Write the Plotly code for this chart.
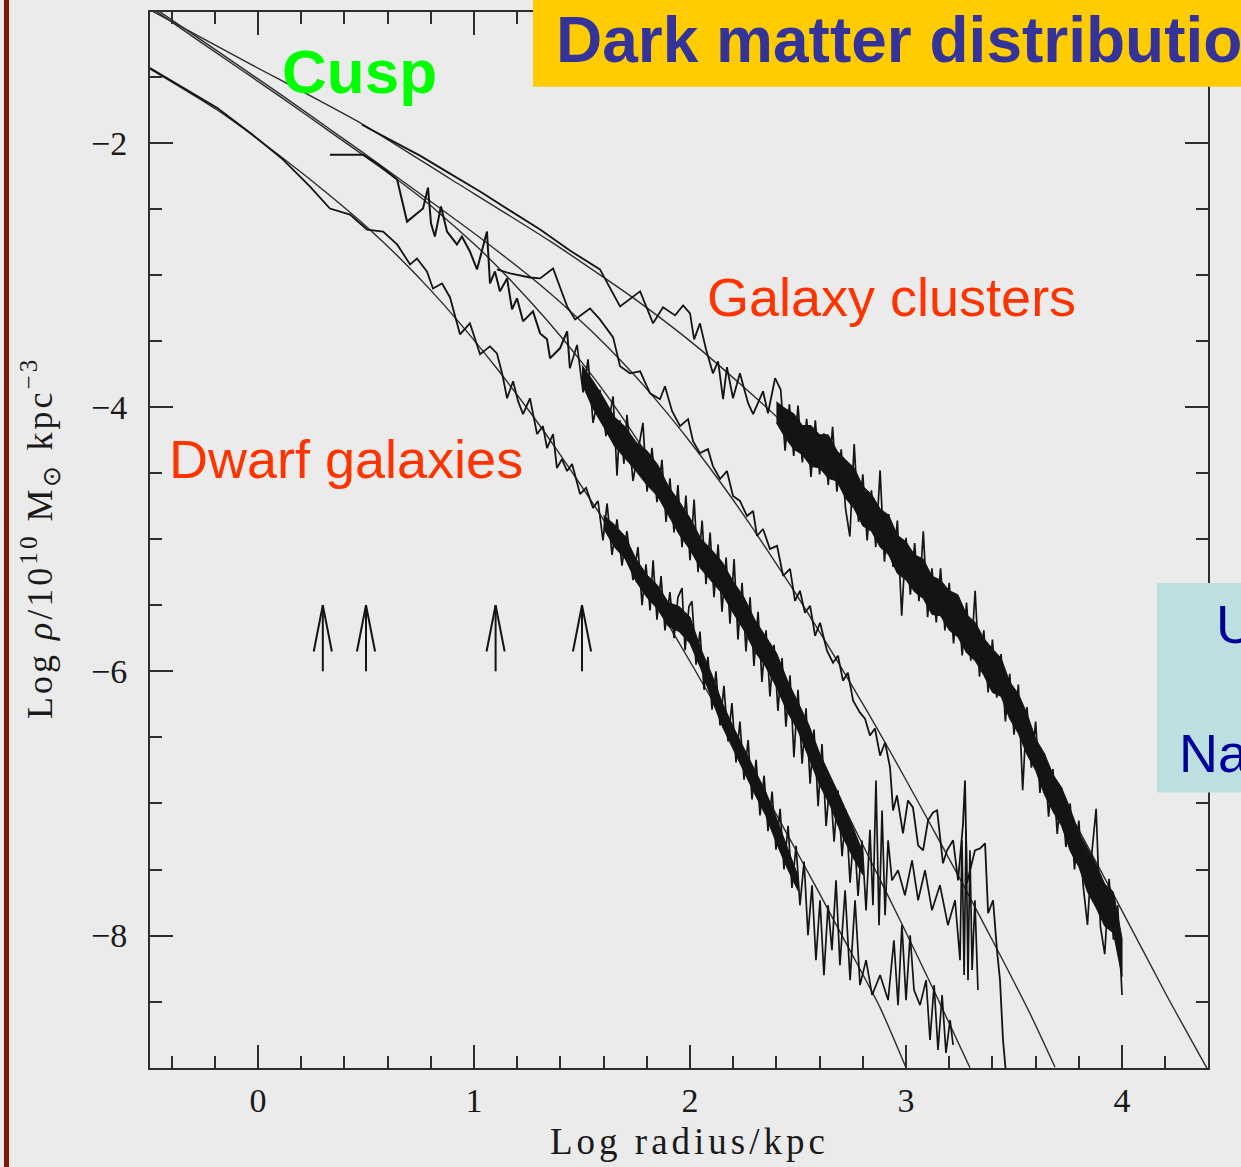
import plotly.graph_objects as go

# ---------------- axis frame (data units) ----------------
X_RANGE = [-0.5, 4.398]
Y_RANGE = [-9.002, -1.011]

# ---------------- fitted profiles ----------------
fit_cluster_x = [-0.500, -0.037, 0.481, 0.889, 1.352, 1.769, 2.046, 2.417, 2.741, 2.972,
                 3.204, 3.435, 3.667, 3.819, 3.977, 4.208, 4.398]
fit_cluster_y = [-0.995, -1.403, -1.857, -2.273, -2.745, -3.212, -3.562, -4.098, -4.642, -5.091,
                 -5.597, -6.173, -6.811, -7.259, -7.741, -8.457, -9.018]

fit_group_x = [-0.500, -0.255, 0.116, 0.333, 0.486, 0.782, 1.042, 1.352, 1.551, 1.676, 1.815, 2.000,
               2.185, 2.278, 2.431, 2.509, 2.662, 2.819, 2.926, 3.051, 3.250, 3.435, 3.574, 3.690]
fit_group_y = [-0.958, -1.232, -1.648, -1.898, -2.075, -2.424, -2.736, -3.139, -3.437, -3.643, -3.893,
               -4.263, -4.670, -4.889, -5.264, -5.463, -5.868, -6.300, -6.605, -6.974, -7.571, -8.145,
               -8.590, -8.996]

fit_galaxy_x = [-0.500, -0.255, 0.116, 0.333, 0.486, 0.644, 0.782, 1.028, 1.181, 1.338, 1.491, 1.616,
                1.769, 1.907, 2.079, 2.231, 2.356, 2.509, 2.662, 2.819, 2.972, 3.134, 3.296]
fit_galaxy_y = [-0.973, -1.250, -1.666, -1.916, -2.093, -2.279, -2.452, -2.809, -3.061, -3.344, -3.645,
                -3.914, -4.281, -4.640, -5.108, -5.537, -5.902, -6.369, -6.859, -7.377, -7.882, -8.433,
                -9.000]

fit_dwarf_x = [-0.500, -0.190, 0.116, 0.333, 0.519, 0.657, 0.796, 0.935, 1.106, 1.259, 1.398, 1.583,
               1.782, 1.940, 2.093, 2.278, 2.449, 2.588, 2.741, 2.880, 3.000]
fit_dwarf_y = [-1.441, -1.751, -2.118, -2.400, -2.660, -2.874, -3.110, -3.367, -3.709, -4.038, -4.358,
               -4.811, -5.328, -5.758, -6.189, -6.726, -7.230, -7.647, -8.114, -8.545, -9.000]

# ---------------- simulated (binned) profiles ----------------
# well-resolved inner parts
sim_cluster_in_x = [0.481, 0.611, 0.750, 0.889, 1.028, 1.167, 1.306, 1.444, 1.537, 1.583,
                    1.676, 1.769, 1.829, 1.875, 1.931, 1.968, 2.000, 2.019, 2.046, 2.074,
                    2.106, 2.130, 2.153, 2.171, 2.199, 2.231, 2.269, 2.292, 2.338, 2.361, 2.394]
sim_cluster_in_y = [-1.864, -1.977, -2.098, -2.234, -2.370, -2.514, -2.657, -2.816, -2.914, -2.959,
                    -3.239, -3.125, -3.367, -3.246, -3.307, -3.231, -3.292, -3.488, -3.367, -3.563,
                    -3.745, -3.654, -3.941, -3.699, -3.934, -3.745, -3.971, -4.054, -3.881, -4.047, -3.782]
# noisy outer parts
sim_cluster_out_x = [2.394, 2.42, 2.44, 2.46, 2.48, 2.50, 2.52, 2.54, 2.56, 2.58, 2.60,
                     2.62, 2.64, 2.66, 2.68, 2.70, 2.72, 2.74, 2.76, 2.78, 2.80,
                     2.82, 2.84, 2.86, 2.88, 2.90, 2.92, 2.94, 2.96, 2.98, 3.00,
                     3.02, 3.04, 3.06, 3.08, 3.10, 3.12, 3.14, 3.16, 3.18, 3.20,
                     3.22, 3.24, 3.26, 3.28, 3.30, 3.32, 3.34, 3.36, 3.38, 3.40,
                     3.42, 3.44, 3.46, 3.48, 3.50, 3.52, 3.54, 3.56, 3.58, 3.60,
                     3.62, 3.64, 3.66, 3.68, 3.70, 3.72, 3.74, 3.76, 3.78, 3.80,
                     3.82, 3.84, 3.86, 3.88, 3.90, 3.92, 3.94, 3.96, 3.98, 4.00]
sim_cluster_out_y = [-3.782, -3.87, -4.33, -3.98, -4.37, -3.99, -4.42, -4.09, -4.53, -4.10, -4.51,
                     -4.20, -4.59, -4.15, -4.64, -4.32, -4.77, -4.98, -4.28, -4.87, -4.51,
                     -5.01, -4.63, -5.06, -4.48, -5.17, -4.81, -5.21, -4.86, -5.58, -4.99,
                     -5.42, -5.03, -5.47, -4.94, -5.59, -5.22, -5.63, -5.22, -5.69, -5.33,
                     -5.79, -5.44, -5.88, -5.48, -5.92, -5.39, -6.04, -5.69, -6.16, -5.76,
                     -6.20, -5.87, -6.38, -6.02, -6.48, -6.10, -6.90, -6.27, -6.73, -6.38,
                     -6.92, -6.62, -7.10, -6.74, -7.23, -6.88, -7.33, -7.00, -7.50, -7.13,
                     -7.62, -7.92, -7.38, -7.04, -7.93, -8.14, -7.57, -8.03, -7.77, -8.45]

sim_group_x = [1.106, 1.167, 1.259, 1.306, 1.366, 1.398, 1.431, 1.468, 1.537, 1.583,
               1.644, 1.676, 1.722, 1.769, 1.815, 1.861, 1.884, 1.917, 1.954, 1.991,
               2.014, 2.046, 2.083, 2.106, 2.139, 2.171, 2.199, 2.231, 2.264, 2.292,
               2.310, 2.338, 2.370, 2.403, 2.431, 2.463, 2.486, 2.509, 2.532, 2.556,
               2.579, 2.602, 2.634, 2.662, 2.685, 2.708, 2.731, 2.755, 2.787, 2.810,
               2.833, 2.856, 2.880, 2.903, 2.926, 2.940, 2.958, 2.986, 3.009, 3.032,
               3.056, 3.079, 3.102, 3.125, 3.144, 3.171, 3.190, 3.218, 3.241, 3.264,
               3.273, 3.282, 3.296, 3.319, 3.343, 3.366, 3.380, 3.403, 3.421, 3.435,
               3.449, 3.463]
sim_group_y = [-2.959, -2.989, -3.020, -3.027, -2.952, -3.088, -3.239, -3.337, -3.254, -3.337,
               -3.473, -3.692, -3.745, -3.730, -3.896, -3.941, -3.843, -4.032, -4.145, -4.092,
               -4.258, -4.349, -4.319, -4.447, -4.545, -4.485, -4.674, -4.711, -4.825, -4.787,
               -4.976, -4.923, -5.074, -5.051, -5.278, -5.225, -5.467, -5.391, -5.557, -5.505,
               -5.731, -5.633, -5.844, -5.935, -5.882, -6.071, -6.011, -6.222, -6.313, -6.358,
               -6.486, -6.433, -6.638, -6.539, -6.728, -7.053, -6.940, -7.227, -6.977, -7.030,
               -7.317, -7.355, -7.128, -7.068, -7.053, -7.453, -7.355, -7.279, -7.582, -7.151,
               -6.826, -7.604, -7.506, -7.355, -7.340, -7.302, -7.831, -7.733, -8.110, -8.337,
               -8.790, -9.050]

sim_galaxy_in_x = [0.333, 0.486, 0.565, 0.644, 0.690, 0.764, 0.787, 0.801, 0.819, 0.847,
                   0.875, 0.921, 0.944, 0.981, 1.014, 1.060, 1.074, 1.097, 1.120, 1.153,
                   1.176, 1.199, 1.227, 1.273, 1.306, 1.338, 1.352, 1.398, 1.431, 1.444]
sim_galaxy_in_y = [-2.091, -2.091, -2.174, -2.279, -2.597, -2.498, -2.340, -2.612, -2.710, -2.483,
                   -2.672, -2.770, -2.710, -2.823, -2.959, -2.672, -3.065, -2.974, -3.125, -3.027,
                   -3.261, -3.178, -3.352, -3.276, -3.443, -3.488, -3.631, -3.556, -3.427, -3.707]
sim_galaxy_out_x = [1.444, 1.477, 1.505, 1.528, 1.551, 1.583, 1.611, 1.644, 1.662, 1.676, 1.694,
                    1.708, 1.736, 1.769, 1.782, 1.801, 1.824, 1.847, 1.870, 1.889, 1.907,
                    1.926, 1.944, 1.963, 1.981, 2.000, 2.019, 2.037, 2.056, 2.074, 2.093,
                    2.111, 2.130, 2.148, 2.167, 2.185, 2.204, 2.222, 2.241, 2.259, 2.278,
                    2.296, 2.315, 2.333, 2.352, 2.370, 2.389, 2.407, 2.426, 2.444, 2.463,
                    2.481, 2.500, 2.519, 2.537, 2.556, 2.574, 2.593, 2.611, 2.630, 2.648,
                    2.667, 2.685, 2.704, 2.722, 2.741, 2.759, 2.778, 2.796, 2.815, 2.833,
                    2.847, 2.861, 2.875, 2.889, 2.903, 2.917, 2.935, 2.963, 2.995, 3.028,
                    3.056, 3.088, 3.120, 3.157, 3.194, 3.227, 3.250, 3.259, 3.269, 3.278,
                    3.287, 3.296, 3.306, 3.319, 3.333]
sim_galaxy_out_y = [-3.707, -3.53, -3.89, -3.64, -4.12, -3.87, -4.22, -3.92, -4.52, -4.10, -4.43,
                    -4.06, -4.56, -4.22, -4.12, -4.64, -4.31, -4.72, -4.40, -4.87, -4.54,
                    -4.95, -4.59, -5.06, -4.67, -5.16, -4.70, -5.25, -4.86, -5.34, -4.95,
                    -5.44, -5.04, -5.55, -5.14, -5.64, -5.15, -5.76, -5.33, -5.85, -5.44,
                    -5.96, -5.55, -6.08, -5.69, -6.19, -5.80, -6.30, -5.90, -6.42, -6.03,
                    -6.65, -6.14, -6.70, -6.28, -6.85, -6.44, -7.02, -6.55, -7.17, -6.82,
                    -7.29, -6.90, -7.40, -7.05, -7.60, -7.20, -7.70, -7.28, -7.81, -7.20,
                    -7.770, -6.826, -7.921, -7.053, -7.846, -7.279, -7.582, -7.506, -7.695, -7.431,
                    -7.733, -7.506, -7.808, -7.619, -7.921, -7.733, -8.186, -7.279, -8.299, -7.204,
                    -8.337, -7.355, -8.261, -7.733, -8.412]

sim_dwarf_in_x = [-0.500, -0.361, -0.190, -0.037, 0.116, 0.241, 0.333, 0.426, 0.505, 0.579,
                  0.644, 0.704, 0.736, 0.782, 0.810, 0.852, 0.889, 0.935, 0.981, 1.028,
                  1.074, 1.106, 1.130, 1.153, 1.181, 1.204, 1.227, 1.259, 1.292, 1.319,
                  1.338, 1.366, 1.384, 1.407, 1.431, 1.454, 1.491, 1.519, 1.551, 1.574]
sim_dwarf_in_y = [-1.434, -1.569, -1.736, -1.924, -2.128, -2.332, -2.498, -2.544, -2.657, -2.672,
                  -2.770, -2.921, -2.876, -2.974, -3.103, -3.065, -3.171, -3.450, -3.367, -3.601,
                  -3.541, -3.594, -3.745, -3.934, -3.805, -3.956, -4.054, -3.934, -4.205, -4.145,
                  -4.311, -4.205, -4.462, -4.394, -4.485, -4.432, -4.659, -4.613, -4.764, -4.711]
sim_dwarf_out_x = [1.574, 1.597, 1.616, 1.639, 1.662, 1.685, 1.708, 1.736, 1.759, 1.778, 1.796,
                   1.815, 1.829, 1.847, 1.866, 1.884, 1.907, 1.926, 1.944, 1.963, 1.977,
                   1.995, 2.009, 2.028, 2.046, 2.065, 2.083, 2.102, 2.120, 2.139, 2.157,
                   2.176, 2.194, 2.213, 2.231, 2.250, 2.269, 2.287, 2.306, 2.324, 2.343,
                   2.361, 2.380, 2.398, 2.417, 2.435, 2.454, 2.472, 2.491, 2.509, 2.528,
                   2.546, 2.565, 2.583, 2.602, 2.620, 2.639, 2.657, 2.676, 2.694, 2.718,
                   2.741, 2.764, 2.787, 2.815, 2.843, 2.880, 2.917, 2.944, 2.963, 2.981,
                   3.000, 3.019, 3.037, 3.065, 3.093, 3.111, 3.130, 3.148, 3.167, 3.185,
                   3.204, 3.218]
sim_dwarf_out_y = [-4.711, -5.01, -4.73, -5.12, -4.85, -5.20, -4.94, -5.31, -5.06, -5.50, -5.19,
                   -5.54, -5.16, -5.61, -5.28, -5.69, -5.40, -5.75, -5.44, -5.37, -5.84,
                   -5.51, -5.47, -5.95, -5.70, -6.14, -5.89, -6.29, -6.00, -6.41, -6.11,
                   -6.53, -6.24, -6.69, -6.38, -6.82, -6.52, -6.97, -6.67, -7.09, -6.79,
                   -7.21, -6.91, -7.35, -7.04, -7.50, -7.17, -7.64, -7.32, -7.77, -7.44,
                   -7.997, -7.619, -8.186, -7.733, -8.299, -7.770, -8.110, -7.582, -8.224, -7.657,
                   -8.337, -7.733, -8.375, -8.186, -8.450, -8.299, -8.488, -8.035, -8.526, -7.921,
                   -8.488, -7.997, -8.412, -8.526, -8.337, -8.790, -8.375, -8.866, -8.450, -8.888,
                   -8.639, -8.828]

# dense cores of the noisy outer profiles (ragged upper / lower envelope)
band_cluster_x = [2.40, 2.44, 2.48, 2.52, 2.56, 2.60, 2.64, 2.68, 2.72, 2.76, 2.80, 2.84, 2.88, 2.92,
                  2.96, 3.00, 3.04, 3.08, 3.12, 3.16, 3.20, 3.24, 3.28, 3.32, 3.36, 3.40, 3.44, 3.48,
                  3.52, 3.56, 3.60, 3.64, 3.68, 3.72, 3.76, 3.80, 3.84, 3.88, 3.92, 3.96, 4.00]
band_cluster_hi = [-3.96, -4.01, -4.05, -4.14, -4.14, -4.21, -4.21, -4.33, -4.40, -4.46, -4.60, -4.66,
                   -4.77, -4.82, -4.97, -5.02, -5.12, -5.15, -5.28, -5.31, -5.39, -5.42, -5.57, -5.63,
                   -5.75, -5.83, -5.90, -6.08, -6.17, -6.32, -6.51, -6.62, -6.78, -6.88, -7.04, -7.22,
                   -7.34, -7.46, -7.61, -7.67, -8.02]
band_cluster_lo = [-4.12, -4.23, -4.32, -4.36, -4.45, -4.46, -4.54, -4.56, -4.69, -4.77, -4.90, -4.94,
                   -5.06, -5.12, -5.26, -5.31, -5.40, -5.45, -5.57, -5.58, -5.69, -5.74, -5.86, -5.92,
                   -6.03, -6.16, -6.19, -6.36, -6.47, -6.63, -6.75, -6.93, -7.06, -7.17, -7.36, -7.48,
                   -7.67, -7.79, -7.93, -7.98, -8.31]

band_galaxy_x = [1.50, 1.55, 1.60, 1.65, 1.70, 1.75, 1.80, 1.85, 1.90, 1.95, 2.00, 2.05, 2.10, 2.15,
                 2.20, 2.25, 2.30, 2.35, 2.40, 2.45, 2.50, 2.55, 2.60, 2.65, 2.70, 2.75, 2.80]
band_galaxy_hi = [-3.685, -3.80, -3.93, -4.075, -4.15, -4.265, -4.33, -4.435, -4.60, -4.715, -4.84,
                  -4.995, -5.08, -5.175, -5.32, -5.44, -5.61, -5.735, -5.86, -6.065, -6.23, -6.405,
                  -6.62, -6.79, -6.97, -7.165, -7.37]
band_galaxy_lo = [-3.825, -4.01, -4.15, -4.295, -4.39, -4.485, -4.59, -4.675, -4.82, -4.965, -5.08,
                  -5.225, -5.32, -5.415, -5.56, -5.69, -5.85, -5.965, -6.12, -6.305, -6.45, -6.655,
                  -6.86, -7.02, -7.23, -7.395, -7.54]

band_dwarf_x = [1.60, 1.65, 1.70, 1.75, 1.80, 1.85, 1.90, 1.95, 2.00, 2.05, 2.10, 2.15, 2.20, 2.25,
                2.30, 2.35, 2.40, 2.45, 2.50]
band_dwarf_hi = [-4.82, -4.89, -4.98, -5.15, -5.27, -5.35, -5.48, -5.51, -5.59, -5.83, -6.02, -6.24,
                 -6.42, -6.58, -6.74, -6.91, -7.11, -7.33, -7.55]
band_dwarf_lo = [-4.92, -5.06, -5.15, -5.32, -5.44, -5.53, -5.66, -5.70, -5.79, -5.98, -6.21, -6.42,
                 -6.60, -6.76, -6.93, -7.09, -7.30, -7.49, -7.66]

# softening-length markers
arrow_x = [0.3, 0.5, 1.1, 1.5]
arrow_base = -6.0
arrow_tip = -5.5

# ---------------- page geometry ----------------
W, H = 1241, 1167
M_L, M_R, M_T, M_B = 150, 33, 10, 99
PW = W - M_L - M_R
PH = H - M_T - M_B


def pxx(v):
    return (v - M_L) / PW


def pxy(v):
    return (H - M_B - v) / PH


INK = "#141414"
FIT_INK = "#2c2c2c"
BG = "#ebebeb"

fig = go.Figure()

fits = [(fit_cluster_x, fit_cluster_y), (fit_group_x, fit_group_y),
        (fit_galaxy_x, fit_galaxy_y), (fit_dwarf_x, fit_dwarf_y)]
for fx, fy in fits:
    fig.add_trace(go.Scatter(x=fx, y=fy, mode="lines", hoverinfo="skip",
                             line=dict(color=FIT_INK, width=1.4, shape="spline", smoothing=0.6)))

# solid cores of the noisy bands
bands = [(band_cluster_x, band_cluster_hi, band_cluster_lo),
         (band_galaxy_x, band_galaxy_hi, band_galaxy_lo),
         (band_dwarf_x, band_dwarf_hi, band_dwarf_lo)]
for bx, bhi, blo in bands:
    fig.add_trace(go.Scatter(x=list(bx) + list(bx)[::-1], y=list(bhi) + list(blo)[::-1],
                             mode="lines", fill="toself", fillcolor=INK, hoverinfo="skip",
                             line=dict(color=INK, width=1)))

# inner parts; noisy outer parts as hairy strokes around the cores
sims = [(sim_cluster_in_x, sim_cluster_in_y, 1.8), (sim_cluster_out_x, sim_cluster_out_y, 1.7),
        (sim_group_x, sim_group_y, 1.8),
        (sim_galaxy_in_x, sim_galaxy_in_y, 2.0), (sim_galaxy_out_x, sim_galaxy_out_y, 1.7),
        (sim_dwarf_in_x, sim_dwarf_in_y, 1.8), (sim_dwarf_out_x, sim_dwarf_out_y, 1.7)]
for sx, sy, lw in sims:
    fig.add_trace(go.Scatter(x=sx, y=sy, mode="lines", hoverinfo="skip",
                             line=dict(color=INK, width=lw)))

# open arrow heads: shaft plus two long barbs
head_len = 0.35
head_half = 0.042
ax_pts, ay_pts = [], []
for xa in arrow_x:
    ax_pts += [xa, xa, None, xa - head_half, xa, xa + head_half, None]
    ay_pts += [arrow_base, arrow_tip, None, arrow_tip - head_len, arrow_tip, arrow_tip - head_len, None]
fig.add_trace(go.Scatter(x=ax_pts, y=ay_pts, mode="lines", hoverinfo="skip",
                         line=dict(color=INK, width=2)))

tick_font = dict(family="Liberation Serif", size=34, color="#1a1a1a")
axis_common = dict(showgrid=False, zeroline=False, showline=True, linecolor="#2e2e2e", linewidth=2,
                   mirror="allticks", ticks="inside", ticklen=23, tickwidth=2, tickcolor="#2e2e2e",
                   tickfont=tick_font)

fig.update_xaxes(range=X_RANGE, tick0=0, dtick=1, ticklabelstandoff=1,
                 minor=dict(ticks="inside", ticklen=12, tickwidth=1.6, tickcolor="#2e2e2e",
                            tick0=0, dtick=0.2, showgrid=False),
                 **axis_common)
fig.update_yaxes(range=Y_RANGE, tick0=0, dtick=2, ticklabelstandoff=14,
                 minor=dict(ticks="inside", ticklen=12, tickwidth=1.6, tickcolor="#2e2e2e",
                            tick0=0, dtick=0.5, showgrid=False),
                 **axis_common)

shapes = [
    # slide edge strip
    dict(type="rect", xref="paper", yref="paper", x0=pxx(4), x1=pxx(9), y0=pxy(H + 5), y1=pxy(-5),
         fillcolor="#7f1608", line=dict(width=0), layer="above"),
    # title banner
    dict(type="rect", xref="paper", yref="paper", x0=pxx(533), x1=pxx(W + 20), y0=pxy(85), y1=pxy(-10),
         fillcolor="#ffcc00", line=dict(width=0), layer="above"),
    # side note box
    dict(type="rect", xref="paper", yref="paper", x0=pxx(1157), x1=pxx(W + 20), y0=pxy(792), y1=pxy(582),
         fillcolor="#bcdfe2", line=dict(width=0), layer="above"),
]

sans = "Liberation Sans, Arial, sans-serif"
serif = "Liberation Serif, Times New Roman, serif"
annotations = [
    dict(text="<b>Dark matter distribution</b>", x=pxx(554), y=pxy(38), xanchor="left", yanchor="middle",
         font=dict(family=sans, size=64, color="#333399")),
    dict(text="<b>Cusp</b>", x=pxx(280), y=pxy(70), xanchor="left", yanchor="middle",
         font=dict(family=sans, size=62, color="#00ff00")),
    dict(text="Galaxy clusters", x=pxx(705), y=pxy(296), xanchor="left", yanchor="middle",
         font=dict(family=sans, size=54, color="#ff3300")),
    dict(text="Dwarf galaxies", x=pxx(167), y=pxy(458), xanchor="left", yanchor="middle",
         font=dict(family=sans, size=54, color="#ff3300")),
    dict(text="Universal", x=pxx(1214), y=pxy(623), xanchor="left", yanchor="middle",
         font=dict(family=sans, size=54, color="#000099")),
    dict(text="Navarro", x=pxx(1177), y=pxy(752), xanchor="left", yanchor="middle",
         font=dict(family=sans, size=54, color="#000099")),
    dict(text='<span style="letter-spacing:4px">Log radius/kpc</span>', x=pxx(689), y=pxy(1142),
         xanchor="center", yanchor="middle", font=dict(family=serif, size=37, color="#1a1a1a")),
    dict(text='<span style="letter-spacing:3px">Log <i>ρ</i>/10<sup>10</sup> M<sub>⊙</sub> kpc<sup>−3</sup></span>',
         x=pxx(40), y=pxy(537), xanchor="center", yanchor="middle", textangle=-90,
         font=dict(family=serif, size=36, color="#1a1a1a")),
]
for a in annotations:
    a.update(xref="paper", yref="paper", showarrow=False)

fig.update_layout(width=W, height=H, autosize=False,
                  margin=dict(l=M_L, r=M_R, t=M_T, b=M_B, pad=0),
                  paper_bgcolor=BG, plot_bgcolor=BG, showlegend=False,
                  shapes=shapes, annotations=annotations)

fig.write_html("out.html")
